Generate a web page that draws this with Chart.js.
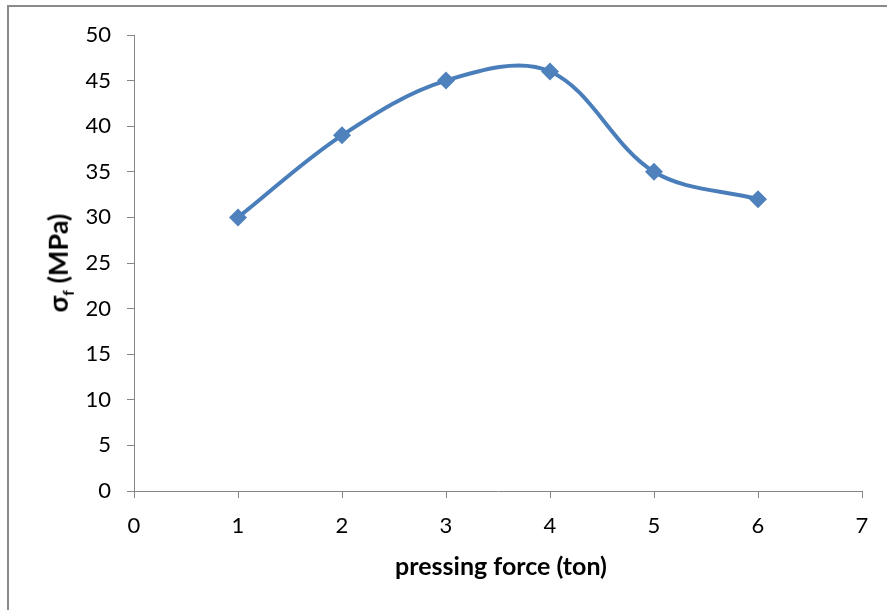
<!DOCTYPE html>
<html>
<head>
<meta charset="utf-8">
<script src="https://cdn.jsdelivr.net/npm/chart.js@4.4.1/dist/chart.umd.min.js"></script>
<style>
  body { margin: 0; background: #fff; overflow: hidden; }
  #wrap { position: relative; width: 887px; height: 610px; }
  #frame { position: absolute; left: 7px; top: 5px; width: 900px; height: 700px;
           border-top: 2px solid #8a8a8a; border-left: 2px solid #8a8a8a; }
  #chartSpace { position: absolute; left: 0; top: 0; }
  .ttl { position: absolute; font-family: Lato, sans-serif; font-weight: bold;
         font-size: 25px; color: #000; white-space: nowrap; }
  #xTitle { left: 501px; top: 565px; transform: translate(-50%, -50%); }
  #yTitle { left: 59px; top: 263px; transform: translate(-50%, -50%) rotate(-90deg); font-size: 27px; }
  #yTitle sub { font-size: 16px; }
</style>
</head>
<body>
<div id="wrap">
  <div id="frame"></div>
  <canvas id="chartSpace" width="887" height="610"></canvas>
  <div class="ttl" id="xTitle">pressing force (ton)</div>
  <div class="ttl" id="yTitle">σ<sub>f</sub> (MPa)</div>
</div>
<script>
const forces = [1, 2, 3, 4, 5, 6];
const strength = [30, 39, 45, 46, 35, 32];
const xTicks = [0, 1, 2, 3, 4, 5, 6, 7];
const yTicks = [0, 5, 10, 15, 20, 25, 30, 35, 40, 45, 50];

const chartDiv = document.getElementById('chartSpace');
const axisGray = '#868686';

let points = [];
for (let i = 0; i < forces.length; i++) {
  points.push({ x: forces[i], y: strength[i] });
}

new Chart(chartDiv, {
  type: 'scatter',
  data: {
    datasets: [{
      label: 'σf',
      data: points,
      showLine: true,
      tension: 0.35,
      borderColor: '#4A7EBB',
      borderWidth: 4,
      backgroundColor: '#4F81BD',
      pointStyle: 'rectRot',
      pointRadius: 9,
      pointBorderWidth: 0
    }]
  },
  options: {
    responsive: false,
    animation: false,
    layout: { padding: { top: 35, right: 25, left: 0, bottom: 0 } },
    plugins: { legend: { display: false }, tooltip: { enabled: false } },
    scales: {
      x: {
        type: 'linear', min: 0, max: 7,
        afterBuildTicks: s => { s.ticks = xTicks.map(v => ({ value: v })); },
        afterFit: s => { s.height = 119; },
        grid: { drawOnChartArea: false, drawTicks: true, tickLength: 7, color: axisGray },
        border: { color: axisGray, width: 1 },
        ticks: { padding: 15, color: '#000', font: { family: 'Lato', size: 22 } }
      },
      y: {
        min: 0, max: 50,
        afterBuildTicks: s => { s.ticks = yTicks.map(v => ({ value: v })); },
        afterFit: s => { s.width = 134; },
        grid: { drawOnChartArea: false, drawTicks: true, tickLength: 7, color: axisGray },
        border: { color: axisGray, width: 1 },
        ticks: { padding: 16, color: '#000', font: { family: 'Lato', size: 22 } }
      }
    }
  }
});
</script>
</body>
</html>
